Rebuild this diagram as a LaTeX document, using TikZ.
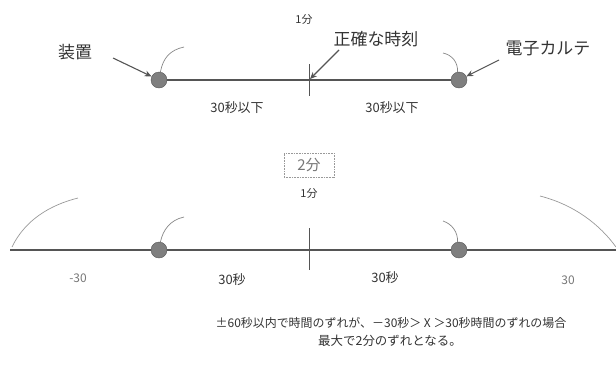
\documentclass[tikz,border=0pt]{standalone}
\usepackage{fontspec}
\setmainfont{Noto Sans CJK JP}
\usetikzlibrary{arrows.meta}
\definecolor{ln}{HTML}{555555}
\definecolor{dotc}{HTML}{7F7F7F}
\definecolor{txt}{HTML}{333333}
\tikzset{
  dotn/.style={circle,fill=dotc,draw=ln,line width=0.4bp,minimum size=16bp,inner sep=0pt},
  axis/.style={draw=ln,line width=1.1bp},
  tickl/.style={draw=ln,line width=1bp},
  stem/.style={draw=ln!70,line width=0.7bp},
  bigarc/.style={draw=ln!60,line width=0.7bp},
  arr/.style={draw=ln,line width=1.1bp,-{Stealth[length=7bp,width=6bp]}},
  bigt/.style={font=\fontsize{17}{19}\selectfont,text=txt,inner sep=0pt},
  midt/.style={font=\fontsize{13}{15}\selectfont,text=txt,inner sep=0pt},
  smallt/.style={font=\fontsize{11}{13}\selectfont,text=txt,inner sep=0pt},
  greyt/.style={font=\fontsize{12}{14}\selectfont,text=ln!80,inner sep=0pt},
  boxt/.style={font=\fontsize{15}{17}\selectfont,text=ln!80,draw=ln!60,densely dotted,line width=0.6bp,minimum width=50bp,minimum height=24bp,inner sep=0pt},
  notet/.style={font=\fontsize{12}{14}\selectfont,text=txt,inner sep=0pt},
  noteb/.style={font=\fontsize{12.5}{14}\selectfont,text=txt,inner sep=0pt}
}
\begin{document}
\begin{tikzpicture}[x=1bp,y=-1bp]
\useasboundingbox (0,0) rectangle (616,376);
% ---------- top ----------
\node[smallt] (m1) at (304,19) {1分};
\node[dotn] (d1) at (159,80) {};
\node[dotn] (d2) at (459,80) {};
\coordinate (tt) at (309,64);
\coordinate (tb) at (309,96);
\coordinate (tc) at (310,79);
\draw[axis] (d1) -- (d2);
\draw[tickl] (tt) -- (tb);
\node[bigt] (sochi) at (75,52) {装置};
\coordinate (a1s) at (113,58);
\draw[arr] (a1s) -- (d1);
\node[bigt] (seikaku) at (376,39) {正確な時刻};
\coordinate (a2s) at (339,50);
\draw[arr] (a2s) -- (tc);
\node[bigt] (karte) at (548,48) {電子カルテ};
\coordinate (a3s) at (499,60);
\draw[arr] (a3s) -- (d2);
\draw[stem] (d1.80) .. controls (163,58) and (170,50) .. (184,47);
\draw[stem] (d2.100) .. controls (458,62) and (452,55) .. (443,53);
\node[midt] (s1) at (237,108) {30秒以下};
\node[midt] (s2) at (392,108) {30秒以下};
% ---------- bottom ----------
\node[boxt] (two) at (309,165) {2分};
\node[smallt] (m2) at (309,193) {1分};
\coordinate (bl) at (10,250);
\coordinate (br) at (616,250);
\draw[axis] (bl) -- (br);
\node[dotn] (e1) at (159,250) {};
\node[dotn] (e2) at (459,250) {};
\coordinate (bt) at (309,228);
\coordinate (bb) at (309,270);
\draw[tickl] (bt) -- (bb);
\draw[stem] (e1.80) .. controls (163,230) and (170,220) .. (184,217);
\draw[stem] (e2.100) .. controls (458,232) and (452,224) .. (443,221);
\draw[bigarc] (12,247) .. controls (25,220) and (50,205) .. (78,198);
\draw[bigarc] (540,196) .. controls (575,205) and (600,225) .. (616,247);
\node[greyt] (n30) at (78,278) {-30};
\node[midt] (b1) at (232,280) {30秒};
\node[midt] (b2) at (385,278) {30秒};
\node[greyt] (p30) at (568,280) {30};
% ---------- note ----------
\node[notet] (note1) at (391,323) {±60秒以内で時間のずれが、－30秒＞ X ＞30秒時間のずれの場合};
\node[noteb] (note2) at (390,341) {最大で2分のずれとなる。};
\end{tikzpicture}
\end{document}
